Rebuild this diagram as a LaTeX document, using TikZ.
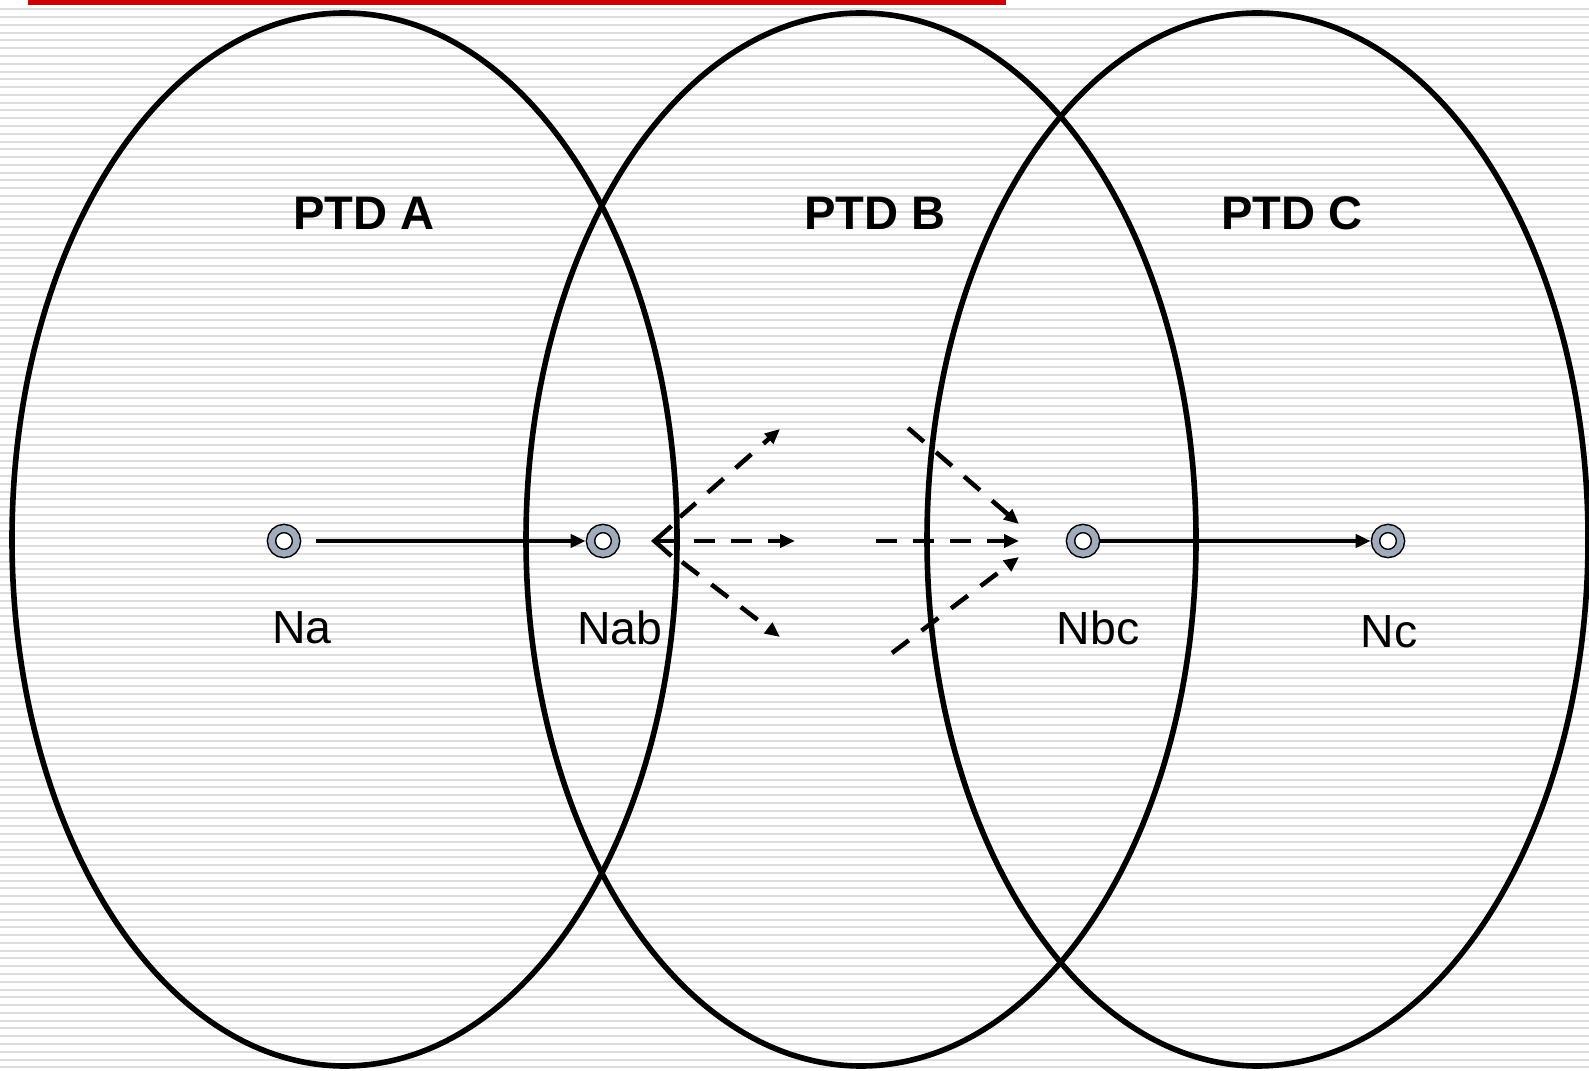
\documentclass[tikz,border=0pt]{standalone}
\usepackage{fontspec}
\setmainfont{Liberation Sans}
\usetikzlibrary{arrows.meta}

\definecolor{portgray}{RGB}{160,172,188}
\definecolor{barred}{RGB}{204,0,0}
\definecolor{stripegray}{RGB}{221,221,221}

\begin{document}
\begin{tikzpicture}[
        x=0.01cm, y=-0.01cm,
        ptdline/.style={line width=0.056cm},
        title/.style={font=\fontsize{13.4}{16}\selectfont\bfseries},
        lbl/.style={font=\fontsize{13.2}{16}\selectfont},
        port/.style={circle, draw, fill=white, double=portgray, double distance=0.066cm,
            line width=0.015cm, minimum size=0.25cm, inner sep=0pt, outer sep=0.048cm},
        flow/.style={->, line width=0.045cm},
        probe/.style={->, line width=0.045cm, dash pattern=on 0.21cm off 0.16cm},
        >={Triangle[length=0.15cm, width=0.13cm]}
    ]
        % Striped background
        \useasboundingbox (0,0) rectangle (1589,1071);
        \fill[white] (0,0) rectangle (1589,1071);
        \foreach \y in {9.3,17.08,...,1071}
            \draw[stripegray, line width=0.02cm] (0,\y) -- (1589,\y);
        \fill[barred] (28,0) rectangle (1006,5);

        % Domains
        \coordinate (ptdA) at (344.5,539.5);
        \coordinate (ptdB) at (861,539.5);
        \coordinate (ptdC) at (1257.5,539.5);
        \draw[ptdline] (ptdA) ellipse [x radius=332.5, y radius=526.5];
        \draw[ptdline] (ptdB) ellipse [x radius=335, y radius=526.5];
        \draw[ptdline] (ptdC) ellipse [x radius=330.5, y radius=526.5];

        \node[title] (tA) at (364,213) {PTD A};
        \node[title] (tB) at (875,213) {PTD B};
        \node[title] (tC) at (1292,213) {PTD C};

        % Nodes
        \node[port] (Na) at (284,541) {};
        \node[port] (Nab) at (603,541) {};
        \node[port] (Nbc) at (1083,541) {};
        \node[port] (Nc) at (1388,541) {};

        \node[lbl] (lNa) at (302,628) {Na};
        \node[lbl] (lNab) at (620,628) {Nab};
        \node[lbl] (lNbc) at (1098,628) {Nbc};
        \node[lbl] (lNc) at (1389,632) {Nc};

        % Paths inside a domain
        \draw[flow, shorten <=0.15cm] (Na) -- (Nab);
        \draw[flow] (Nbc) -- (Nc);

        % Probes leaving Nab
        \coordinate (abUpS) at (680,517);
        \coordinate (abUpE) at (780,429);
        \coordinate (abMidS) at (651,541);
        \coordinate (abMidE) at (795,541);
        \coordinate (abDnS) at (682,562);
        \coordinate (abDnE) at (780,637);
        \draw[probe] (abUpS) -- (abUpE);
        \draw[probe, {Straight Barb[length=0.17cm, width=0.3cm]}->] (abMidS) -- (abMidE);
        \draw[probe] (abDnS) -- (abDnE);

        % Probes reaching Nbc
        \coordinate (bcUpS) at (908,428);
        \coordinate (bcUpE) at (1019,524);
        \coordinate (bcMidS) at (876,541);
        \coordinate (bcMidE) at (1019,541);
        \coordinate (bcDnS) at (892,653);
        \coordinate (bcDnE) at (1019,557);
        \draw[probe] (bcUpS) -- (bcUpE);
        \draw[probe] (bcMidS) -- (bcMidE);
        \draw[probe] (bcDnS) -- (bcDnE);
    \end{tikzpicture}
\end{document}
